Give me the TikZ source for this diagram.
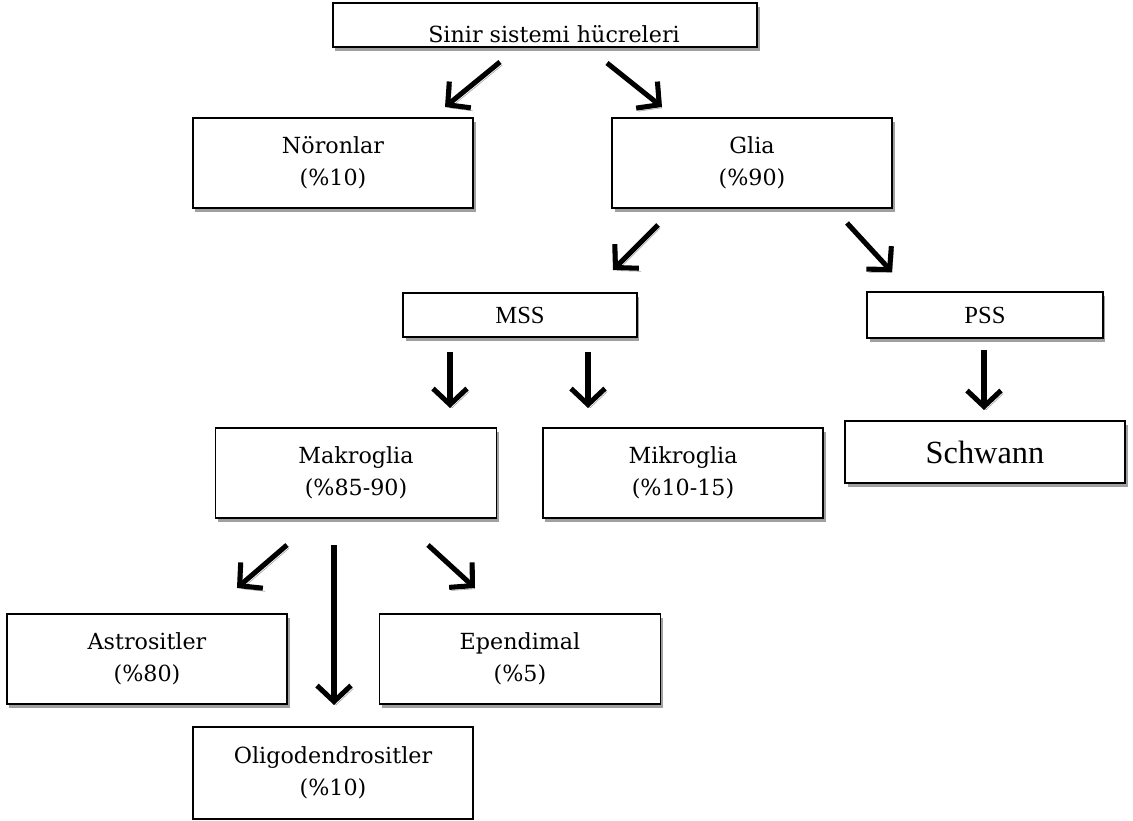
\documentclass[tikz,border=0pt]{standalone}
\usepackage{fontspec}
\usepackage{tikz}
\usetikzlibrary{arrows.meta, shadows}
\setmainfont{DejaVu Serif}
\newfontfamily\tnrfont{Liberation Serif}
\definecolor{shadowgray}{RGB}{160, 160, 160}

\begin{document}
\begin{tikzpicture}[
  x=0.025cm, y=-0.025cm,
  box/.style={draw, line width=1.3pt, fill=white, inner sep=0pt, align=center,
              font=\fontsize{15.8}{23}\selectfont,
              general shadow={fill=shadowgray, shadow xshift=1.8pt, shadow yshift=-2.8pt}},
  plainbox/.style={draw, line width=1.3pt, fill=white, inner sep=0pt, align=center,
              font=\fontsize{15.8}{23}\selectfont},
  arrow/.style={line width=3.6pt, -{Straight Barb[length=0.4cm, width=0.85cm]},
                preaction={draw=shadowgray, transform canvas={shift={(1.6pt,-2.2pt)}}}}
]
  \useasboundingbox (0,0) rectangle (1133,821);

  \node[box, minimum width=10.6cm, minimum height=1.1cm] (cells) at (545,25) {};
  \node[anchor=base, font=\fontsize{15.8}{23}\selectfont] (cellstext) at (554,43) {Sinir sistemi hücreleri};

  \node[box, minimum width=7cm, minimum height=2.25cm] (neur) at (333,163) {Nöronlar\\(\%10)};
  \node[box, minimum width=7cm, minimum height=2.25cm] (glia) at (752,163) {Glia\\(\%90)};

  \node[box, minimum width=5.83cm, minimum height=1.12cm, font=\tnrfont\fontsize{17.5}{20}\selectfont] (mss) at (520,315) {MSS};
  \node[box, minimum width=5.88cm, minimum height=1.15cm, font=\tnrfont\fontsize{17.5}{20}\selectfont] (pss) at (985,315) {PSS};

  \node[box, minimum width=7.02cm, minimum height=2.25cm] (makro) at (356,473) {Makroglia\\(\%85-90)};
  \node[box, minimum width=7cm, minimum height=2.25cm] (mikro) at (683,473) {Mikroglia\\(\%10-15)};
  \node[box, minimum width=7cm, minimum height=1.55cm, font=\tnrfont\fontsize{23}{26}\selectfont] (schwann) at (985,452) {Schwann};

  \node[box, minimum width=7cm, minimum height=2.25cm] (astro) at (147,659) {Astrositler\\(\%80)};
  \node[box, minimum width=7.02cm, minimum height=2.25cm] (epend) at (520,659) {Ependimal\\(\%5)};
  \node[plainbox, minimum width=7cm, minimum height=2.3cm] (oligo) at (333,773) {Oligodendrositler\\(\%10)};

  \coordinate (c1) at (500,62);  \coordinate (c2) at (445,107);
  \coordinate (c3) at (607,63);  \coordinate (c4) at (662,107);
  \coordinate (g1) at (658,225); \coordinate (g2) at (613,270);
  \coordinate (g3) at (847,223); \coordinate (g4) at (892,272);
  \coordinate (m1) at (450,352); \coordinate (m2) at (450,408);
  \coordinate (m3) at (588,352); \coordinate (m4) at (588,408);
  \coordinate (p1) at (984,350); \coordinate (p2) at (984,410);
  \coordinate (k1) at (287,545); \coordinate (k2) at (237,588);
  \coordinate (k3) at (334,545); \coordinate (k4) at (334,705);
  \coordinate (k5) at (428,545); \coordinate (k6) at (475,588);

  \draw[arrow] (c1) -- (c2);
  \draw[arrow] (c3) -- (c4);
  \draw[arrow] (g1) -- (g2);
  \draw[arrow] (g3) -- (g4);
  \draw[arrow] (m1) -- (m2);
  \draw[arrow] (m3) -- (m4);
  \draw[arrow] (p1) -- (p2);
  \draw[arrow] (k1) -- (k2);
  \draw[arrow] (k3) -- (k4);
  \draw[arrow] (k5) -- (k6);
\end{tikzpicture}
\end{document}
